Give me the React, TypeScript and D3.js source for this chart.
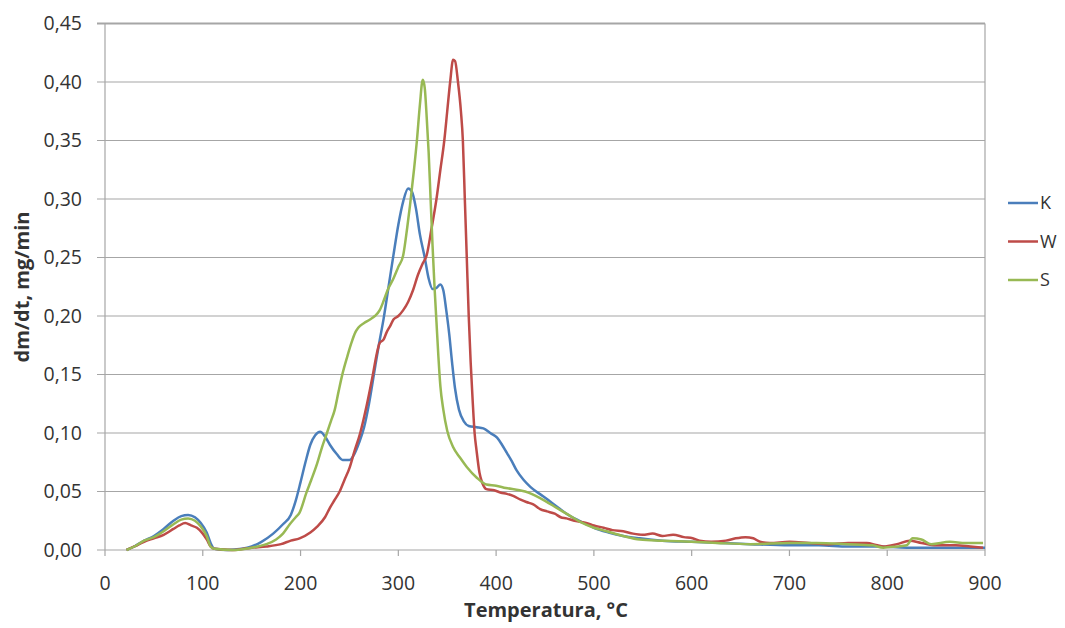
import React from "react";
import * as d3 from "d3";

const yTicks = [0, 0.05, 0.1, 0.15, 0.2, 0.25, 0.3, 0.35, 0.4, 0.45];
const xTicks = [0, 100, 200, 300, 400, 500, 600, 700, 800, 900];

const kTemp = [22,30,40,50,60,70,78,85,92,98,104,108,112,125,140,150,160,172,182,190,195,200,205,210,215,220,225,230,237,243,250,255,260,265,270,275,280,285,290,295,300,305,310,314,318,322,327,331,335,339,343,346,349,352,355,358,362,367,372,380,387,394,401,406,411,416,421,428,435,441,448,456,464,472,480,490,500,515,530,547,570,600,630,660,700,730,760,790,820,850,880,900];
const kVal = [0,0.003,0.008,0.012,0.018,0.025,0.029,0.030,0.028,0.023,0.015,0.006,0.001,0,0.001,0.003,0.007,0.014,0.022,0.030,0.042,0.058,0.075,0.090,0.098,0.101,0.097,0.090,0.082,0.077,0.077,0.082,0.092,0.105,0.125,0.150,0.175,0.198,0.225,0.252,0.278,0.298,0.309,0.306,0.292,0.270,0.250,0.232,0.223,0.224,0.227,0.222,0.205,0.185,0.160,0.138,0.120,0.110,0.106,0.105,0.104,0.100,0.096,0.090,0.083,0.076,0.068,0.060,0.054,0.050,0.046,0.041,0.036,0.031,0.027,0.023,0.019,0.015,0.012,0.010,0.008,0.007,0.006,0.005,0.004,0.004,0.003,0.003,0.002,0.002,0.002,0.002];

const wTemp = [22,30,40,50,60,70,76,82,88,94,100,104,108,112,130,150,165,180,190,199,210,217,225,230,235,240,245,250,255,261,268,274,278,281,285,288,292,295,300,305,310,315,320,325,329,334,339,343,347,350,353,356,358,361,364,366,368,370,372,374,376,378,380,383,386,390,398,405,411,418,425,431,438,445,452,460,466,472,480,487,493,500,510,519,530,540,550,560,570,581,592,601,608,620,635,645,655,663,670,680,700,720,740,760,779,790,796,810,823,835,850,870,885,898];
const wVal = [0,0.003,0.007,0.010,0.013,0.018,0.021,0.023,0.021,0.019,0.014,0.009,0.003,0.001,0,0.002,0.003,0.005,0.008,0.010,0.015,0.020,0.028,0.036,0.043,0.050,0.060,0.070,0.084,0.100,0.125,0.150,0.168,0.177,0.180,0.186,0.192,0.197,0.200,0.205,0.212,0.222,0.235,0.245,0.252,0.275,0.300,0.325,0.350,0.375,0.400,0.419,0.418,0.400,0.375,0.350,0.300,0.250,0.200,0.160,0.128,0.100,0.085,0.066,0.057,0.052,0.051,0.049,0.048,0.046,0.043,0.041,0.039,0.035,0.033,0.031,0.028,0.027,0.025,0.024,0.023,0.021,0.019,0.017,0.016,0.014,0.013,0.014,0.012,0.013,0.011,0.010,0.008,0.007,0.008,0.010,0.011,0.010,0.007,0.006,0.007,0.006,0.005,0.006,0.006,0.004,0.003,0.005,0.008,0.006,0.004,0.004,0.003,0.002];

const sTemp = [22,30,40,50,60,70,78,85,92,98,104,108,112,130,150,165,175,182,189,195,199,206,211,217,222,227,231,235,239,243,248,252,256,259,265,271,276,281,285,289,295,300,305,309,312,316,319,322,325,327,329,331,333,335,337,339,341,343,346,350,356,363,370,380,390,400,410,424,433,441,450,462,474,486,500,513,530,547,570,600,626,660,700,728,760,785,796,810,820,826,835,845,864,880,898];
const sVal = [0,0.003,0.008,0.011,0.016,0.022,0.026,0.027,0.025,0.020,0.012,0.003,0.001,0,0.002,0.005,0.009,0.014,0.022,0.028,0.032,0.049,0.060,0.074,0.088,0.100,0.110,0.120,0.136,0.151,0.166,0.177,0.186,0.190,0.194,0.197,0.200,0.205,0.213,0.222,0.232,0.242,0.252,0.275,0.295,0.325,0.350,0.380,0.402,0.395,0.370,0.340,0.300,0.260,0.225,0.195,0.165,0.140,0.120,0.102,0.088,0.079,0.071,0.062,0.056,0.055,0.053,0.051,0.049,0.046,0.042,0.036,0.030,0.024,0.019,0.016,0.012,0.009,0.008,0.007,0.006,0.005,0.006,0.006,0.005,0.004,0.002,0.003,0.004,0.010,0.009,0.005,0.007,0.006,0.006];

const seriesNames = ["K", "W", "S"];
const seriesColors = ["#4a7ebb", "#be4b48", "#98b954"];
const seriesTemps = [kTemp, wTemp, sTemp];
const seriesVals = [kVal, wVal, sVal];

const FONT = "'Open Sans', 'Liberation Sans', sans-serif";

export default function App() {
  const x = d3.scaleLinear().domain([0, 900]).range([105, 985]);
  const y = d3.scaleLinear().domain([0, 0.45]).range([550, 23.5]);
  const line = d3
    .line<[number, number]>()
    .x((d) => x(d[0]))
    .y((d) => y(d[1]))
    .curve(d3.curveMonotoneX);
  const fmt = (v: number) => v.toFixed(2).replace(".", ",");

  return (
    <svg
      width={1065}
      height={628}
      style={{ position: "absolute", left: 0, top: 0, background: "#fff" }}
      fontFamily={FONT}
    >
      <rect x={0} y={0} width={1065} height={628} fill="#fff" />
      {yTicks.map((t) => (
        <g key={"y" + t}>
          <line x1={97} x2={985} y1={y(t)} y2={y(t)} stroke="#a6a6a6" strokeWidth={t === 0.45 ? 2 : 1.2} />
          <text x={82} y={y(t)} dy="0.35em" textAnchor="end" fontSize={19.5} fill="#333">
            {fmt(t)}
          </text>
        </g>
      ))}
      <line x1={105} x2={105} y1={23.5} y2={550} stroke="#a6a6a6" strokeWidth={1.2} />
      <line x1={985} x2={985} y1={23.5} y2={550} stroke="#a6a6a6" strokeWidth={1.2} />
      {xTicks.map((t) => (
        <g key={"x" + t}>
          <line x1={x(t)} x2={x(t)} y1={550} y2={556} stroke="#a6a6a6" strokeWidth={1.2} />
          <text x={x(t)} y={583} dy="0.35em" textAnchor="middle" fontSize={19.5} fill="#333">
            {t}
          </text>
        </g>
      ))}
      {seriesNames.map((n, i) => {
        const data = seriesTemps[i].map((t, j) => [t, seriesVals[i][j]] as [number, number]);
        return (
          <path
            key={n}
            d={line(data) || ""}
            fill="none"
            stroke={seriesColors[i]}
            strokeWidth={2.5}
            strokeLinejoin="round"
          />
        );
      })}
      {seriesNames.map((n, i) => (
        <g key={"lg" + n}>
          <line x1={1008} x2={1038} y1={203 + i * 38.5} y2={203 + i * 38.5} stroke={seriesColors[i]} strokeWidth={2.5} />
          <text x={1040} y={203 + i * 38.5} dy="0.35em" fontSize={18} fill="#333">
            {n}
          </text>
        </g>
      ))}
      <text x={546} y={610} dy="0.35em" textAnchor="middle" fontSize={20} fontWeight="bold" fill="#333">
        Temperatura, °C
      </text>
      <text
        transform={`translate(22,287) rotate(-90)`}
        dy="0.35em"
        textAnchor="middle"
        fontSize={20}
        fontWeight="bold"
        fill="#333"
      >
        dm/dt, mg/min
      </text>
    </svg>
  );
}
